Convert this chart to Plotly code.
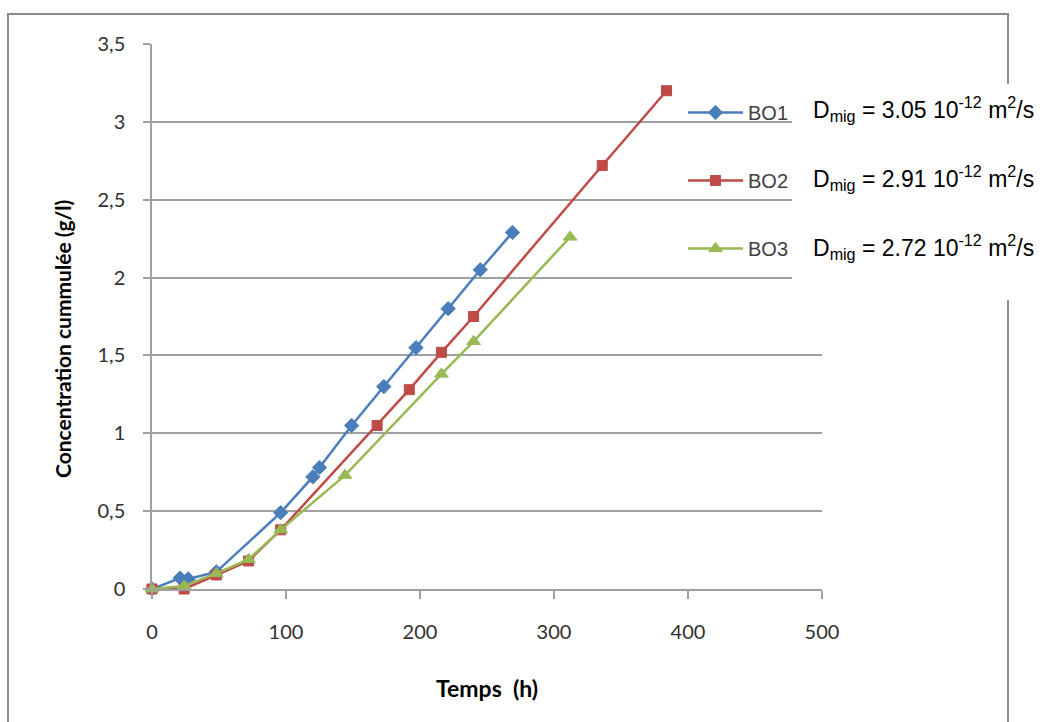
import plotly.graph_objects as go

# Cumulative concentration (g/l) versus time (h) for three samples
t_bo1 = [0, 21, 27, 48, 96, 120, 125, 149, 173, 197, 221, 245, 269]
c_bo1 = [0, 0.07, 0.065, 0.11, 0.49, 0.72, 0.78, 1.05, 1.30, 1.55, 1.80, 2.05, 2.29]

t_bo2 = [0, 24, 48, 72, 96, 168, 192, 216, 240, 336, 384]
c_bo2 = [0, 0, 0.09, 0.18, 0.38, 1.05, 1.28, 1.52, 1.75, 2.72, 3.20]

t_bo3 = [0, 24, 48, 72, 96, 144, 216, 240, 312]
c_bo3 = [0, 0.02, 0.10, 0.19, 0.38, 0.73, 1.38, 1.59, 2.26]

names = ["BO1", "BO2", "BO3"]
dmig = ["3.05", "2.91", "2.72"]

GRID = "#a0a0a0"
TICK_FONT = dict(family="Lato, Open Sans, sans-serif", size=20, color="#303030")

fig = go.Figure()

series = [
    (t_bo1, c_bo1, "#4A7EBB", "diamond", 11),
    (t_bo2, c_bo2, "#BE4B48", "square", 10),
    (t_bo3, c_bo3, "#98B954", "triangle-up", 12),
]
for i, (t, c, col, sym, ms) in enumerate(series):
    fig.add_trace(go.Scatter(
        x=t, y=c, name=names[i], mode="lines+markers",
        line=dict(color=col, width=2.5),
        marker=dict(symbol=sym, size=ms, color=col, line=dict(color=col, width=1)),
        cliponaxis=False, legendgroup=names[i],
    ))

# Plot area: x 152..822 px, y 44..589 px
W, H = 1042, 722
L, R, T, B = 152, 220, 44, 133
pw, ph = W - L - R, H - T - B


def px(x):
    return (x - L) / pw


def py(y):
    return (H - B - y) / ph


shapes = [
    # outer chart frame
    dict(type="rect", xref="paper", yref="paper",
         x0=px(8), x1=px(1008), y0=py(740), y1=py(14),
         line=dict(color="#8c8c8c", width=2), fillcolor="rgba(0,0,0,0)", layer="below"),
    # white text box holding the diffusion coefficients
    dict(type="rect", xref="paper", yref="paper",
         x0=px(792), x1=px(1060), y0=py(300), y1=py(84),
         line=dict(width=0), fillcolor="white", layer="above"),
]

annotations = [
    dict(text="Concentration cummulée (g/l)", xref="paper", yref="paper",
         x=px(62), y=py(339), textangle=-90, showarrow=False,
         font=dict(family="Lato, Open Sans, sans-serif", size=21, color="#000000", weight="bold"),
         xanchor="center", yanchor="middle"),
    dict(text="Temps  (h)", xref="paper", yref="paper",
         x=0.5, y=py(688), showarrow=False,
         font=dict(family="Lato, Open Sans, sans-serif", size=23, color="#000000", weight="bold"),
         xanchor="center", yanchor="middle"),
]
for i, d in enumerate(dmig):
    annotations.append(dict(
        text=f"D<sub>mig</sub> = {d} 10<sup>-12</sup> m<sup>2</sup>/s",
        xref="paper", yref="paper", x=px(811), y=py(109 + 69 * i),
        xanchor="left", yanchor="middle", showarrow=False,
        font=dict(family="Liberation Sans, Arial, sans-serif", size=23, color="#000000"),
    ))

fig.update_layout(
    width=W, height=H,
    margin=dict(l=L, r=R, t=T, b=B, pad=0),
    paper_bgcolor="white", plot_bgcolor="white",
    separators=", ",
    showlegend=True,
    legend=dict(
        x=px(683), y=py(93), xanchor="left", yanchor="top",
        bgcolor="rgba(0,0,0,0)", borderwidth=0,
        font=dict(family="Liberation Sans, Arial, sans-serif", size=20, color="#404040"),
        tracegroupgap=39, itemwidth=55,
    ),
    xaxis=dict(
        range=[0, 500], tickvals=[0, 100, 200, 300, 400, 500],
        showgrid=False, zeroline=False,
        showline=True, linecolor=GRID, linewidth=1.5,
        ticks="outside", ticklen=8, tickcolor=GRID, tickwidth=1.5,
        tickfont=TICK_FONT, ticklabelstandoff=16,
    ),
    yaxis=dict(
        range=[0, 3.5], tickvals=[0, 0.5, 1, 1.5, 2, 2.5, 3, 3.5],
        showgrid=True, gridcolor=GRID, gridwidth=1.5, zeroline=False,
        showline=True, linecolor=GRID, linewidth=1.5,
        ticks="outside", ticklen=7, tickcolor=GRID, tickwidth=1.5,
        tickfont=TICK_FONT, ticklabelstandoff=14,
    ),
    shapes=shapes,
    annotations=annotations,
)

fig.write_html("out.html")
